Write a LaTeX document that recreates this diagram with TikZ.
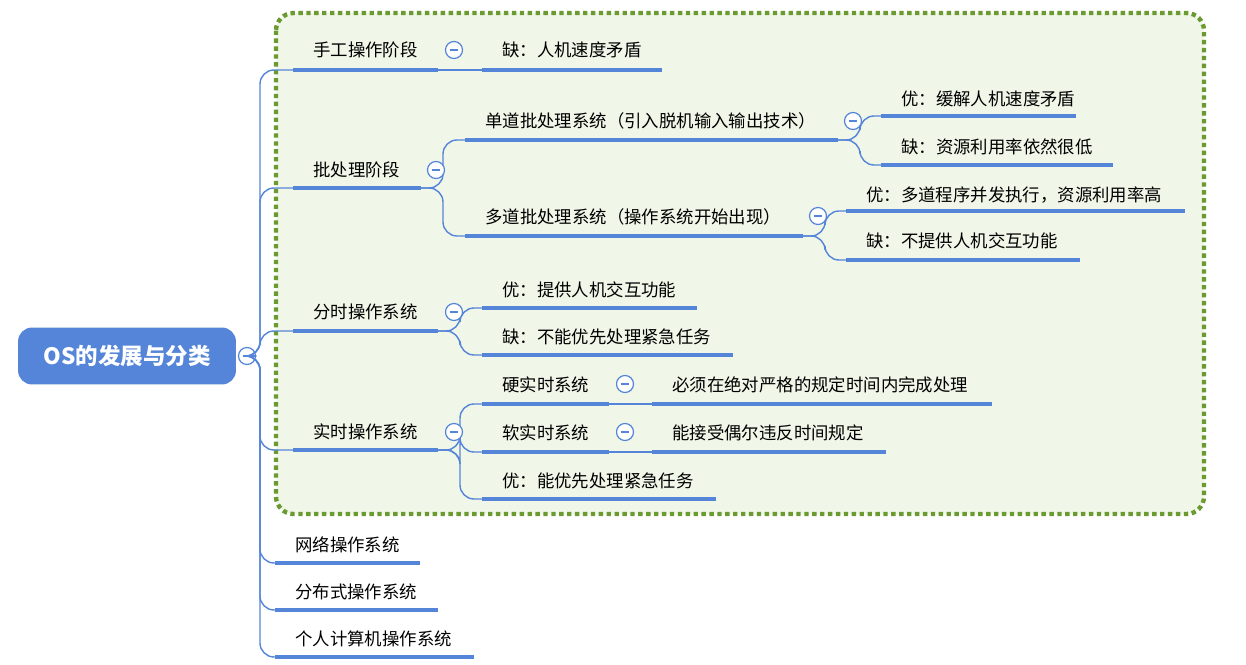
\documentclass[tikz,border=0pt]{standalone}
\usepackage{fontspec}
\newfontfamily\cjk{Noto Sans CJK SC}
\usetikzlibrary{positioning}
\definecolor{xblue}{HTML}{5585D8}
\definecolor{xgreen}{HTML}{6A9A30}
\definecolor{xbg}{HTML}{F0F6E8}
\tikzset{
  uline/.style={xblue, line width=2.2pt},
  conn/.style={xblue, line width=0.8pt, rounded corners=8pt},
  txt/.style={anchor=west, inner sep=0pt, font=\cjk\fontsize{9.9}{11}\selectfont},
  foldc/.style={circle, draw=xblue, fill=white, line width=0.7pt, minimum size=0.34cm, inner sep=0pt,
    path picture={\draw[xblue, line width=0.7pt] (path picture bounding box.center) ++(-2.5pt,0) -- ++(5pt,0);}}
}
% topic: name, x1, x2, y of line, y of text, text
\newcommand\topic[6]{%
  \coordinate (#1-w) at (#2,#4);
  \coordinate (#1-e) at (#3,#4);
  \draw[uline] (#1-w) -- (#1-e);
  \node[txt] (#1) at (#2+20,#5) {#6};}
\begin{document}
\begin{tikzpicture}[x=0.02cm, y=-0.02cm]
  \useasboundingbox (0,0) rectangle (1246,665);
  %green boundary
  \draw[xgreen, fill=xbg, line width=2.5pt, dotted, rounded corners=10pt] (276,13) rectangle (1204,514);
  %root
  \node[fill=xblue, rounded corners=8pt, minimum width=4.36cm, minimum height=1.14cm,
        text=white, font=\cjk\bfseries\fontsize{12.8}{14}\selectfont] (root) at (127,356) {OS的发展与分类};
  \node[foldc] (rootf) at (247,356) {};
  \coordinate (trunk) at (260,356);
  %first level
  \topic{hand}{293}{438}{70}{50}{手工操作阶段}
  \topic{batch}{293}{421}{188}{170}{批处理阶段}
  \topic{share}{293}{438}{331}{312}{分时操作系统}
  \topic{real}{293}{438}{450}{432}{实时操作系统}
  \topic{net}{275}{420}{563}{545}{网络操作系统}
  \topic{dist}{275}{438}{610}{592}{分布式操作系统}
  \topic{pc}{275}{474}{657}{639}{个人计算机操作系统}
  \foreach \c in {hand,batch,share,real,net,dist,pc}
    \draw[conn] (rootf.east) -- (trunk) |- (\c-w);
  %second level
  \topic{handc}{482}{662}{70}{50}{缺：人机速度矛盾}
  \topic{single}{465}{838}{140}{121}{单道批处理系统（引入脱机输入输出技术）}
  \topic{multi}{465}{803}{236}{217}{多道批处理系统（操作系统开始出现）}
  \topic{sharea}{482}{697}{308}{290}{优：提供人机交互功能}
  \topic{shareb}{482}{733}{355}{337}{缺：不能优先处理紧急任务}
  \topic{hard}{482}{609}{404}{385}{硬实时系统}
  \topic{soft}{482}{609}{452}{433}{软实时系统}
  \topic{reala}{482}{716}{499}{481}{优：能优先处理紧急任务}
  %third level
  \topic{singlea}{881}{1076}{116}{99}{优：缓解人机速度矛盾}
  \topic{singleb}{881}{1113}{165}{147}{缺：资源利用率依然很低}
  \topic{multia}{846}{1185}{211}{195}{优：多道程序并发执行，资源利用率高}
  \topic{multib}{846}{1080}{260}{241}{缺：不提供人机交互功能}
  \topic{hardc}{652}{992}{404}{385}{必须在绝对严格的规定时间内完成处理}
  \topic{softc}{652}{886}{452}{433}{能接受偶尔违反时间规定}
  %connectors
  \draw[conn] (hand-e) -- (handc-w);
  \draw[conn] (hard-e) -- (hardc-w);
  \draw[conn] (soft-e) -- (softc-w);
  \foreach \p/\c in {batch/single, batch/multi, share/sharea, share/shareb,
                     real/hard, real/soft, real/reala, single/singlea, single/singleb,
                     multi/multia, multi/multib}
    \draw[conn] (\p-e) -- ++(22,0) |- (\c-w);
  %fold marks
  \node[foldc] (handf) at (454,50) {};
  \node[foldc] (batchf) at (436,170) {};
  \node[foldc] (sharef) at (454,312) {};
  \node[foldc] (realf) at (454,432) {};
  \node[foldc] (singlef) at (853,121) {};
  \node[foldc] (multif) at (818,216) {};
  \node[foldc] (hardf) at (625,384) {};
  \node[foldc] (softf) at (625,432) {};
\end{tikzpicture}
\end{document}
